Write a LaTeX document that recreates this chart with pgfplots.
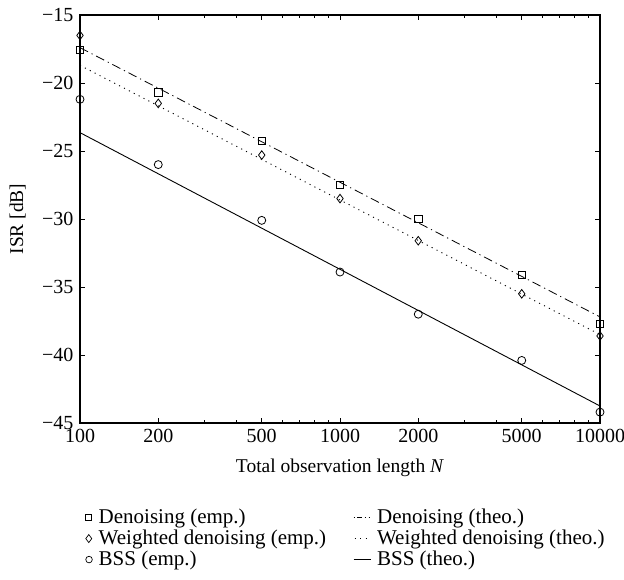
\documentclass[border=0pt]{standalone}
\usepackage{fontspec}
\setmainfont{Liberation Serif}
\usepackage{pgfplots}
\pgfplotsset{compat=1.18}

\begin{document}
\fontsize{19.5}{23}\selectfont
\begin{tikzpicture}
\begin{axis}[
    scale only axis,
    width=520pt, height=408pt,
    xmode=log,
    xmin=100, xmax=10000,
    ymin=-45, ymax=-15,
    xtick={100,200,500,1000,2000,5000,10000},
    xticklabels={100,200,500,1000,2000,5000,10000},
    minor xtick={300,400,600,700,800,900,3000,4000,6000,7000,8000,9000},
    ytick={-45,-40,-35,-30,-25,-20,-15},
    yticklabels={−45,−40,−35,−30,−25,−20,−15},
    tick align=inside,
    major tick length=5pt,
    minor tick length=3pt,
    tick style={black, line width=0.9pt},
    axis line style={line width=1.1pt},
    /pgf/number format/assume math mode=true,
    ticklabel style={font=\fontsize{20}{23}\selectfont},
    xlabel={Total observation length \textit{N}},
    ylabel={ISR [dB]},
    label style={font=\fontsize{19.5}{23}\selectfont},
    xlabel style={yshift=-3pt},
    ylabel style={at={(axis description cs:-0.12,0.5)}, anchor=center},
    legend columns=2,
    legend cell align=left,
    legend style={draw=none, fill=none, inner sep=0pt,
        at={(0.01,-0.205)}, anchor=north west,
        font=\fontsize{21}{24}\selectfont, row sep=-0.5pt,
        /tikz/every odd column/.append style={column sep=4pt},
        /tikz/every even column/.append style={column sep=25pt}},
]
\coordinate (o) at (rel axis cs:0,0);
% Denoising (emp.)
\addplot[black, only marks, mark=square, mark size=3.8pt, mark options={line width=0.8pt},
    legend image code/.code={\draw[black, line width=0.7pt] (0pt,-3pt) rectangle (6pt,3pt);}]
    coordinates {(100,-17.57) (200,-20.7) (500,-24.26) (1000,-27.5) (2000,-30.0) (5000,-34.1) (10000,-37.7)};
\addlegendentry{Denoising (emp.)}
% Denoising (theo.)
\addplot[black, line width=0.8pt, dash pattern=on 9pt off 4pt on 1.2pt off 4pt,
    legend image code/.code={\draw[black, line width=0.7pt, dash pattern=on 1pt off 2.5pt on 5pt off 2.5pt on 1pt off 3pt] (0pt,0pt) -- (17pt,0pt);}]
    coordinates {(100,-17.4) (10000,-37.2)};
\addlegendentry{Denoising (theo.)}
% Weighted denoising (emp.)
\addplot[black, only marks, mark=diamond, mark size=4.3pt, mark options={line width=0.8pt},
    legend image code/.code={\draw[black, line width=0.7pt] (3pt,-4pt) -- (6pt,0pt) -- (3pt,4pt) -- (0pt,0pt) -- cycle;}]
    coordinates {(100,-16.5) (200,-21.5) (500,-25.3) (1000,-28.5) (2000,-31.6) (5000,-35.5) (10000,-38.6)};
\addlegendentry{Weighted denoising (emp.)}
% Weighted denoising (theo.)
\addplot[black, line width=0.9pt, dash pattern=on 1.1pt off 4.4pt,
    legend image code/.code={\draw[black, line width=0.9pt, dash pattern=on 1pt off 4.5pt] (1pt,0pt) -- (17pt,0pt);}]
    coordinates {(100,-18.7) (10000,-38.5)};
\addlegendentry{Weighted denoising (theo.)}
% BSS (emp.)
\addplot[black, only marks, mark=o, mark size=4pt, mark options={line width=0.8pt},
    legend image code/.code={\draw[black, line width=0.7pt] (3.3pt,0pt) circle (3.3pt);}]
    coordinates {(100,-21.2) (200,-26.0) (500,-30.1) (1000,-33.9) (2000,-37.0) (5000,-40.4) (10000,-44.2)};
\addlegendentry{BSS (emp.)}
% BSS (theo.)
\addplot[black, line width=0.9pt,
    legend image code/.code={\draw[black, line width=0.9pt] (0pt,0pt) -- (17pt,0pt);}]
    coordinates {(100,-23.65) (10000,-43.75)};
\addlegendentry{BSS (theo.)}
\end{axis}
\pgfresetboundingbox
\path[use as bounding box] ([shift={(-80pt,-157pt)}]o) rectangle ([shift={(544pt,423pt)}]o);
\end{tikzpicture}
\end{document}
